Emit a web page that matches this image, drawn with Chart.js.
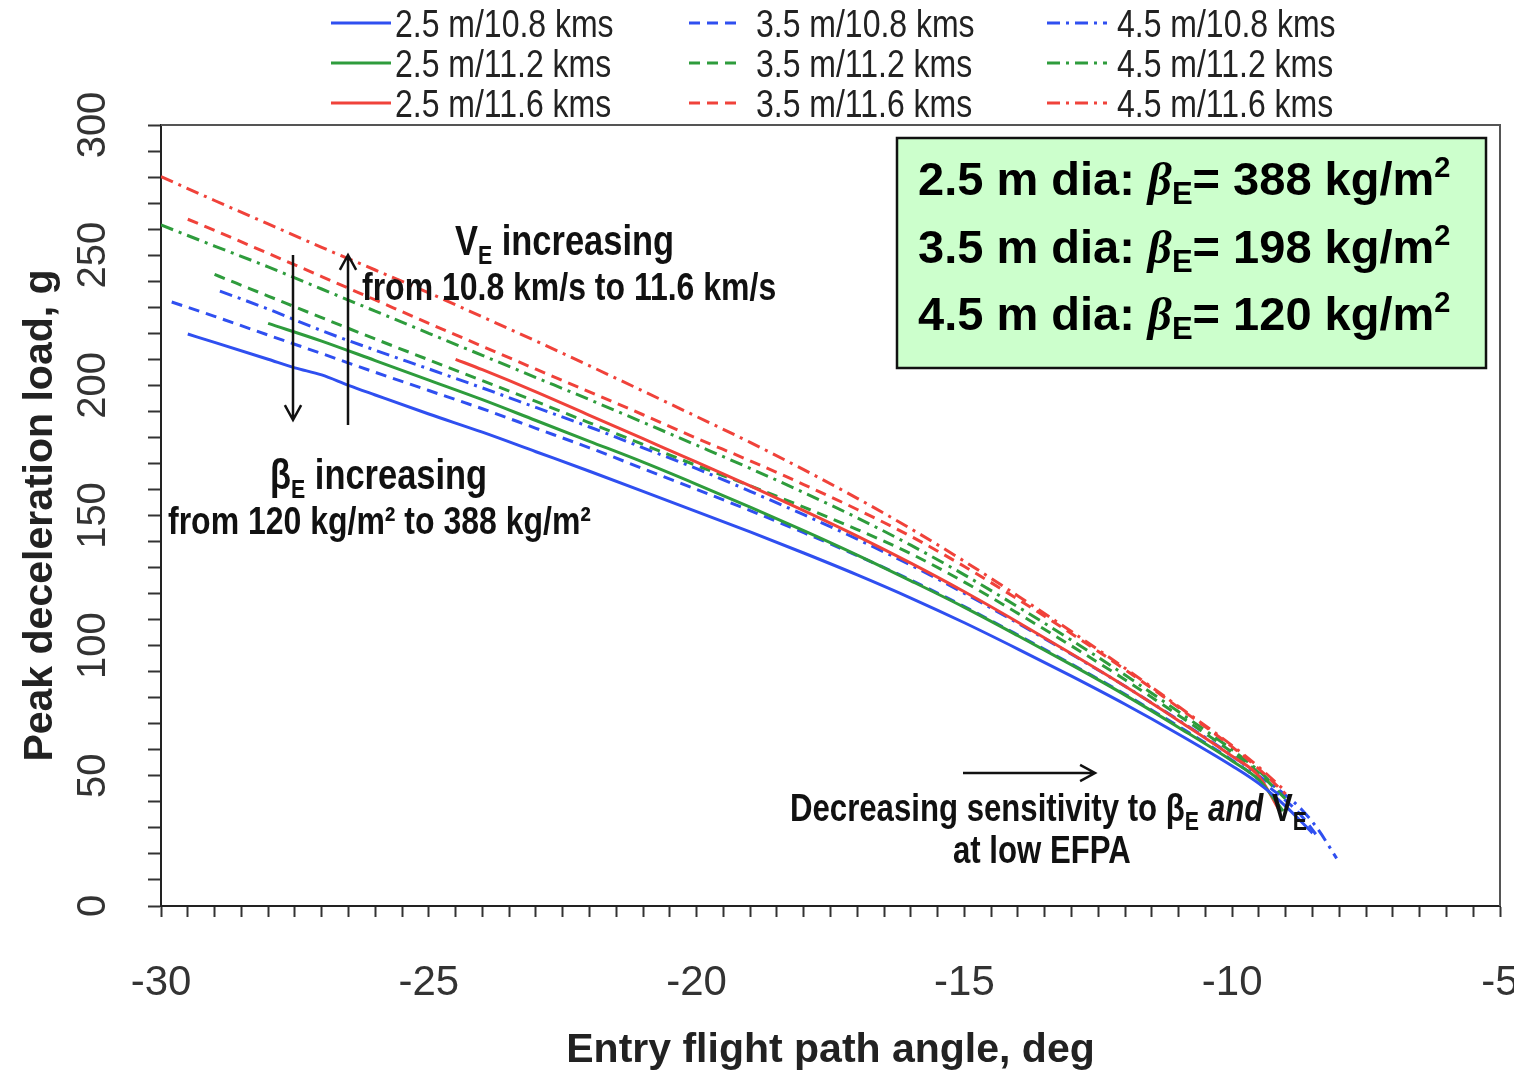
<!DOCTYPE html>
<html>
<head>
<meta charset="utf-8">
<title>Peak deceleration load vs entry flight path angle</title>
<script src="https://cdn.jsdelivr.net/npm/chart.js@4.4.1/dist/chart.umd.min.js"></script>
<style>
  html, body { margin: 0; padding: 0; background: #fff; }
  #wrap { width: 1514px; height: 1073px; }
</style>
</head>
<body>
<div id="wrap"><canvas id="myChart" width="1514" height="1073"></canvas></div>
<script>
"use strict";

// entry flight path angle (deg) and peak deceleration (g), one pair per case
// 2.5 m diameter
const efpa_25_108 = [-29.5, -29, -28, -27.5, -27, -26.5, -26, -25, -24, -23, -22, -21, -20, -19, -18, -17, -16, -15, -14, -13, -12, -11, -10, -9.5, -9, -8.5];
const load_25_108 = [219.7, 216.5, 210, 206.7, 204, 200, 196.3, 189, 182, 174.5, 167, 159.3, 151.5, 143.7, 135.6, 127.2, 118.3, 108.8, 98.7, 88.3, 77.5, 66, 53.8, 47, 38.3, 28];
const efpa_25_112 = [-28, -27, -26, -25, -24, -23, -22, -21, -20, -19, -18, -17, -16, -15, -14, -13, -12, -11, -10, -9.5, -9.05];
const load_25_112 = [223.8, 217, 209.5, 202, 194.5, 186.5, 178.5, 170.5, 162, 153.2, 144.2, 134.8, 124.9, 114.7, 103.8, 92.6, 81, 68.6, 55.7, 48.4, 36.5];
const efpa_25_116 = [-24.5, -24, -23, -22, -21, -20, -19, -18, -17, -16, -15, -14, -13, -12, -11, -10, -9.5, -9.1];
const load_25_116 = [210, 206, 197.5, 188.5, 179.5, 170.5, 161.4, 151.9, 142.1, 131.7, 120.7, 109, 96.9, 84.4, 71.2, 57.5, 49.8, 36];
// 3.5 m diameter
const efpa_35_108 = [-29.8, -29, -28, -27, -26, -25, -24, -23, -22, -21, -20, -19, -18, -17, -16, -15, -14, -13, -12, -11, -10, -9.5, -9, -8.7, -8.4];
const load_35_108 = [232, 226.5, 219.3, 212.2, 205, 198, 191, 183.5, 176, 168, 160, 151.9, 143.4, 134.6, 125.2, 115, 104.1, 92.9, 81.3, 69, 56, 48.6, 40.5, 34.5, 26.5];
const efpa_35_112 = [-29, -28, -27, -26, -25, -24, -23, -22, -21, -20, -19, -18, -17, -16, -15, -14, -13, -12, -11, -10, -9.5, -9];
const load_35_112 = [242.6, 234.3, 226, 217.8, 209.8, 201.8, 193.8, 185.6, 177.3, 169.2, 161.4, 153.2, 144.6, 135.3, 124.4, 112.4, 99.9, 86.9, 73.2, 59, 51, 41];
const efpa_35_116 = [-29.5, -29, -28, -27, -26, -25, -24, -23, -22, -21, -20, -19, -18, -17, -16, -15, -14, -13, -12, -11, -10, -9.5, -9];
const load_35_116 = [263.8, 259.5, 250.7, 241.8, 232.8, 223.8, 215, 206.2, 197.5, 188.7, 179.7, 171, 161.9, 152.3, 142, 130.4, 117.8, 104.6, 90.8, 76.2, 61.1, 52.6, 43];
// 4.5 m diameter
const efpa_45_108 = [-28.9, -28, -27, -26, -25, -24, -23, -22, -21, -20, -19, -18, -17, -16, -15, -14, -13, -12, -11, -10, -9.5, -9, -8.7, -8.4, -8.05];
const load_45_108 = [236.2, 229.3, 221, 213.5, 206.3, 199, 191.5, 184, 176, 168, 159.3, 150.3, 140.9, 130.9, 120.1, 108.6, 96.7, 84.4, 71.4, 57.7, 50, 42.5, 37, 29.5, 18.3];
const efpa_45_112 = [-30, -29, -28, -27, -26, -25, -24, -23, -22, -21, -20, -19, -18, -17, -16, -15, -14, -13, -12, -11, -10, -9.5, -9];
const load_45_112 = [261.6, 253.5, 245.5, 237, 228.5, 220, 211.5, 203, 194.5, 185.8, 177, 168.1, 158.8, 149.1, 138.6, 127.2, 114.9, 102.1, 88.7, 74.6, 60, 51.8, 42];
const efpa_45_116 = [-30, -29, -28, -27, -26, -25, -24, -23, -22, -21, -20, -19, -18, -17, -16, -15, -14, -13, -12, -11, -10, -9.5, -9];
const load_45_116 = [280.2, 271, 262, 253, 244.3, 235.5, 226.3, 217, 207.5, 197.8, 188, 178.1, 167.6, 156.6, 144.9, 132.4, 119.1, 105.4, 91.3, 76.6, 61.6, 53.3, 44];

const seriesLabels = ["2.5 m/10.8 kms", "2.5 m/11.2 kms", "2.5 m/11.6 kms",
                      "3.5 m/10.8 kms", "3.5 m/11.2 kms", "3.5 m/11.6 kms",
                      "4.5 m/10.8 kms", "4.5 m/11.2 kms", "4.5 m/11.6 kms"];
const seriesX = [efpa_25_108, efpa_25_112, efpa_25_116, efpa_35_108, efpa_35_112, efpa_35_116, efpa_45_108, efpa_45_112, efpa_45_116];
const seriesY = [load_25_108, load_25_112, load_25_116, load_35_108, load_35_112, load_35_116, load_45_108, load_45_112, load_45_116];

const BLUE = "#2f4ff0";
const GREEN = "#2e9c3c";
const RED = "#f0423a";
const colors = [BLUE, GREEN, RED];
const dashes = [[], [11, 7], [13, 6, 3, 6]];

const SANS = "'Liberation Sans', Arial, sans-serif";
const SERIF = "'Liberation Serif', 'Times New Roman', serif";
const NARROW_X = 0.82; // squeeze for the narrow annotation / legend text

const datasets = seriesLabels.map((label, i) => ({
  label: label,
  data: seriesX[i].map((v, j) => ({ x: v, y: seriesY[i][j] })),
  borderColor: colors[i % 3],
  borderDash: dashes[Math.floor(i / 3)],
  borderWidth: 3,
  pointRadius: 0,
  fill: false,
  cubicInterpolationMode: "monotone",
}));

// draw a run of text pieces [text, font, dy] starting at x, baseline y
function rich(ctx, x, y, parts, sx) {
  ctx.save();
  ctx.translate(x, y);
  ctx.scale(sx || 1, 1);
  ctx.textAlign = "left";
  ctx.textBaseline = "alphabetic";
  let cx = 0;
  for (const p of parts) {
    ctx.font = p[1];
    ctx.fillText(p[0], cx, p[2] || 0);
    cx += ctx.measureText(p[0]).width;
  }
  ctx.restore();
}

function arrow(ctx, x1, y1, x2, y2) {
  const a = Math.atan2(y2 - y1, x2 - x1);
  const h = 17;
  ctx.beginPath();
  ctx.moveTo(x1, y1);
  ctx.lineTo(x2, y2);
  ctx.moveTo(x2 - h * Math.cos(a - 0.5), y2 - h * Math.sin(a - 0.5));
  ctx.lineTo(x2, y2);
  ctx.lineTo(x2 - h * Math.cos(a + 0.5), y2 - h * Math.sin(a + 0.5));
  ctx.stroke();
}

const framePlugin = {
  id: "frame",
  afterDraw(chart) {
    const { ctx, chartArea: a } = chart;
    ctx.save();
    ctx.strokeStyle = "#555";
    ctx.lineWidth = 2;
    ctx.beginPath();
    ctx.moveTo(a.left, a.top);
    ctx.lineTo(a.right, a.top);
    ctx.lineTo(a.right, a.bottom);
    ctx.stroke();
    ctx.restore();
  },
};

// 3 x 3 legend above the plot
const legendCols = [331, 689, 1047];
const legendLen = [60, 54, 60];
const legendText = [395, 756, 1117];
const legendRows = [23, 63, 103];
const legendPlugin = {
  id: "legend3x3",
  afterDraw(chart) {
    const ctx = chart.ctx;
    ctx.save();
    chart.data.datasets.forEach((ds, i) => {
      const col = Math.floor(i / 3), row = i % 3;
      const y = legendRows[row];
      ctx.strokeStyle = ds.borderColor;
      ctx.lineWidth = 3;
      ctx.setLineDash(ds.borderDash);
      ctx.beginPath();
      ctx.moveTo(legendCols[col], y);
      ctx.lineTo(legendCols[col] + legendLen[col], y);
      ctx.stroke();
      ctx.setLineDash([]);
      ctx.fillStyle = "#222";
      rich(ctx, legendText[col], y + 14, [[ds.label, `39px ${SANS}`]], NARROW_X);
    });
    ctx.restore();
  },
};

const notesPlugin = {
  id: "notes",
  afterDraw(chart) {
    const ctx = chart.ctx;
    ctx.save();
    ctx.fillStyle = "#111";
    const big = `bold 42px ${SANS}`;
    const mid = `bold 39px ${SANS}`;
    const sub = `bold 26px ${SANS}`;
    const n = NARROW_X;
    rich(ctx, 455, 255, [["V", big], ["E", sub, 9], [" increasing", big]], n);
    rich(ctx, 362, 300, [["from 10.8 km/s to 11.6 km/s", mid]], n);
    rich(ctx, 270, 489, [["\u03b2", big], ["E", sub, 9], [" increasing", big]], n);
    rich(ctx, 168, 534, [["from 120 kg/m\u00b2 to 388 kg/m\u00b2", mid]], n);
    rich(ctx, 790, 821, [["Decreasing sensitivity to \u03b2", `bold 38px ${SANS}`], ["E", sub, 9], [" ", mid],
                         ["and", `italic bold 38px ${SANS}`], [" V", `bold 38px ${SANS}`], ["E", sub, 9]], n);
    rich(ctx, 953, 863, [["at low EFPA", `bold 38px ${SANS}`]], n);

    ctx.strokeStyle = "#111";
    ctx.lineWidth = 2.5;
    arrow(ctx, 293, 255, 293, 420);
    arrow(ctx, 348, 425, 348, 255);
    arrow(ctx, 963, 773, 1095, 773);

    // ballistic coefficient box
    ctx.fillStyle = "#ccffcc";
    ctx.fillRect(897, 138, 589, 230);
    ctx.strokeStyle = "#111";
    ctx.lineWidth = 2.5;
    ctx.strokeRect(897, 138, 589, 230);
    ctx.fillStyle = "#000";
    const bf = `bold 47px ${SANS}`;
    const rows = [["2.5", "388", 195], ["3.5", "198", 263], ["4.5", "120", 330]];
    rows.forEach(r => {
      rich(ctx, 918, r[2], [[r[0] + " m dia: ", bf], ["\u03b2", `italic bold 47px ${SERIF}`],
        ["E", `bold 31px ${SANS}`, 9], ["= " + r[1] + " kg/m", bf], ["2", `bold 29px ${SANS}`, -18]]);
    });
    ctx.restore();
  },
};

const ctx = document.getElementById("myChart");

new Chart(ctx, {
  type: "line",
  data: { datasets: datasets },
  options: {
    responsive: false,
    animation: false,
    layout: { padding: { top: 125, right: 14, left: 0, bottom: 0 } },
    plugins: {
      legend: { display: false },
      tooltip: { enabled: false },
    },
    scales: {
      x: {
        type: "linear",
        min: -30,
        max: -5,
        border: { color: "#222", width: 2 },
        grid: { drawOnChartArea: false, tickLength: 11, tickColor: "#333", tickWidth: 2 },
        ticks: {
          stepSize: 0.5,
          autoSkip: false,
          maxRotation: 0,
          padding: 41,
          color: "#333",
          font: { family: SANS, size: 42 },
          callback: (v) => (v % 5 === 0 ? String(v) : ""),
        },
        title: {
          display: true,
          text: "Entry flight path angle, deg",
          color: "#222",
          font: { family: SANS, size: 41, weight: "bold", lineHeight: 1 },
          padding: { top: 0, bottom: 2 },
        },
        afterFit: (s) => { s.height = 167; s.paddingLeft = 0; s.paddingRight = 0; },
      },
      y: {
        min: 0,
        max: 300,
        border: { color: "#222", width: 2 },
        grid: { drawOnChartArea: false, tickLength: 13, tickColor: "#333", tickWidth: 2 },
        ticks: {
          stepSize: 10,
          autoSkip: false,
          minRotation: 90,
          maxRotation: 90,
          crossAlign: "center",
          padding: 21,
          color: "#333",
          font: { family: SANS, size: 40 },
          callback: (v) => (v % 50 === 0 ? String(v) : ""),
        },
        title: {
          display: true,
          text: "Peak deceleration load, g",
          color: "#222",
          font: { family: SANS, size: 41, weight: "bold", lineHeight: 1 },
          padding: { top: 20, bottom: 0 },
        },
        afterFit: (s) => { s.width = 161; s.paddingTop = 0; s.paddingBottom = 0; },
      },
    },
  },
  plugins: [framePlugin, legendPlugin, notesPlugin],
});
</script>
</body>
</html>
